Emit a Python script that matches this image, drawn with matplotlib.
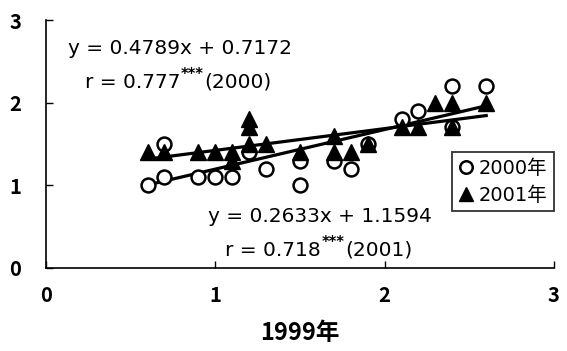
import numpy as np
import matplotlib
matplotlib.use("Agg")
import matplotlib.pyplot as plt

plt.rcParams['font.family'] = ['Noto Sans CJK JP', 'DejaVu Sans']

# 2000 vs 1999 (circles)
x2000 = [0.6, 0.7, 0.7, 0.9, 1.0, 1.1, 1.2, 1.3, 1.5, 1.5, 1.7, 1.8, 1.9, 2.1, 2.2, 2.4, 2.4, 2.6]
y2000 = [1.0, 1.1, 1.5, 1.1, 1.1, 1.1, 1.4, 1.2, 1.0, 1.3, 1.3, 1.2, 1.5, 1.8, 1.9, 2.2, 1.7, 2.2]

# 2001 vs 1999 (triangles)
x2001 = [0.6, 0.7, 0.9, 1.0, 1.1, 1.1, 1.2, 1.2, 1.2, 1.3, 1.5, 1.7, 1.7, 1.8, 1.9, 2.1, 2.2, 2.3, 2.4, 2.4, 2.6]
y2001 = [1.4, 1.4, 1.4, 1.4, 1.4, 1.3, 1.8, 1.7, 1.5, 1.5, 1.4, 1.6, 1.4, 1.4, 1.5, 1.7, 1.7, 2.0, 2.0, 1.7, 2.0]

# regression coefficients from the figure
fit2000 = (0.4789, 0.7172)
fit2001 = (0.2633, 1.1594)
r2000 = '0.777'
r2001 = '0.718'
fit_range = (0.6, 2.6)

ticks = [0, 1, 2, 3]

wide = ['DejaVu Sans', 'Noto Sans CJK JP']


def r_label(ax, x, y, r, year, size):
    # "r = 0.777***(2000)" with small raised stars
    t = ax.text(x, y, 'r = ' + r, fontsize=size, va='baseline', family=wide)
    s = ax.annotate('***', xy=(1, 1), xycoords=t, xytext=(0.3, 4),
                    textcoords='offset points', fontsize=size * 0.72,
                    fontweight='bold', va='top', ha='left', family=wide)
    ax.annotate('(' + year + ')', xy=(1, 0), xycoords=(s, t),
                xytext=(0.3, 0), textcoords='offset points',
                fontsize=size, va='bottom', ha='left', family=wide)


def main():
    fig = plt.figure(figsize=(5.67, 3.51), dpi=100)
    ax = fig.add_axes([0.081, 0.2365, 0.896, 0.7065])

    xs = np.array(fit_range)
    ax.plot(xs, fit2000[0] * xs + fit2000[1], color='black', lw=2.3, zorder=2)
    ax.plot(xs, fit2001[0] * xs + fit2001[1], color='black', lw=2.3, zorder=2)

    ax.plot(x2000, y2000, 'o', ms=10, mfc='white', mec='black', mew=1.8,
            label='2000年', zorder=3)
    ax.plot(x2001, y2001, '^', ms=11, mfc='black', mec='black',
            label='2001年', zorder=4)

    ax.set_xlim(0, 3)
    ax.set_ylim(0, 3)
    ax.set_xticks(ticks)
    ax.set_yticks(ticks)
    ax.tick_params(direction='in', length=5, width=1, pad=12,
                   labelsize=14.5)
    ax.tick_params(axis='y', pad=18)
    for lab in ax.get_xticklabels() + ax.get_yticklabels():
        lab.set_fontweight('bold')
    ax.spines['top'].set_visible(False)
    ax.spines['right'].set_visible(False)
    ax.spines['left'].set_linewidth(1.2)
    ax.spines['bottom'].set_linewidth(1.2)

    ax.set_xlabel('1999年', fontsize=17, fontweight='bold', labelpad=11)

    size = 14.5
    ax.text(0.13, 2.66, 'y = %.4fx + %.4f' % fit2000, fontsize=size,
            va='center', family=wide)
    r_label(ax, 0.23, 2.18, r2000, '2000', size)
    ax.text(0.96, 0.62, 'y = %.4fx + %.4f' % fit2001, fontsize=size,
            va='center', family=wide)
    r_label(ax, 1.06, 0.15, r2001, '2001', size)

    leg = ax.legend(loc='upper left', bbox_to_anchor=(0.797, 0.567),
                    bbox_transform=fig.transFigure,
                    prop={'family': wide, 'size': 14},
                    frameon=True, fancybox=False, handlelength=0.8,
                    handletextpad=0.2, borderpad=0.35, labelspacing=0.4,
                    markerscale=0.9, borderaxespad=0)
    leg.get_frame().set_edgecolor('black')
    leg.get_frame().set_linewidth(1.3)

    fig.savefig('out.png', dpi=100)


if __name__ == "__main__":
    main()
